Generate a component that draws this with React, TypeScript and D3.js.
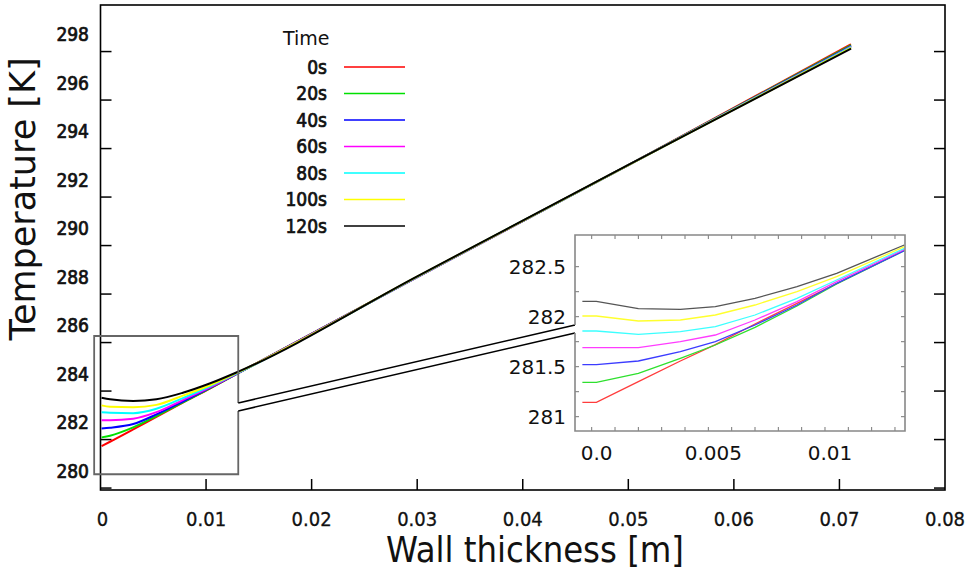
import React from "react";
import * as d3 from "d3";

// ---------- data ----------
const timeLabels = ["0s", "20s", "40s", "60s", "80s", "100s", "120s"];
const lineColors = ["#ff0000", "#00e000", "#0000ff", "#ff00ff", "#00ffff", "#ffff00", "#000000"];
const insetColors = ["#ff3c3c", "#2ee02e", "#3c3cff", "#ff3cff", "#3cffff", "#ffff2e", "#555555"];

// main plot: wall thickness [m] and temperature [K] per time step
const mainX = [0.0001, 0.0009, 0.0031, 0.0053, 0.0078, 0.0104, 0.013, 0.03, 0.05, 0.0711];
const main0s = [281.03, 281.21, 281.72, 282.24, 282.82, 283.41, 284.03, 288.0, 292.62, 297.6];
const main20s = [281.39, 281.46, 281.8, 282.27, 282.83, 283.42, 284.03, 288.0, 292.62, 297.56];
const main40s = [281.76, 281.79, 281.94, 282.34, 282.87, 283.44, 284.03, 288.0, 292.62, 297.52];
const main60s = [282.1, 282.1, 282.16, 282.43, 282.93, 283.46, 284.04, 288.0, 292.62, 297.5];
const main80s = [282.43, 282.41, 282.39, 282.57, 283.01, 283.51, 284.05, 288.01, 292.62, 297.48];
const main100s = [282.71, 282.65, 282.63, 282.73, 283.11, 283.55, 284.07, 288.02, 292.62, 297.45];
const main120s = [283.02, 282.96, 282.89, 282.96, 283.23, 283.62, 284.09, 288.03, 292.63, 297.42];
const mainSeries = [main0s, main20s, main40s, main60s, main80s, main100s, main120s];

// inset (zoom near x = 0)
const insetX = [-0.0004, 0.0002, 0.002, 0.0038, 0.0053, 0.007, 0.0088, 0.0105, 0.0134];
const inset0s = [281.144, 281.144, 281.35, 281.557, 281.72, 281.927, 282.134, 282.33, 282.667];
const inset20s = [281.344, 281.344, 281.434, 281.584, 281.717, 281.894, 282.107, 282.327, 282.66];
const inset40s = [281.52, 281.52, 281.557, 281.65, 281.75, 281.917, 282.117, 282.334, 282.66];
const inset60s = [281.69, 281.69, 281.69, 281.75, 281.817, 281.967, 282.15, 282.35, 282.674];
const inset80s = [281.857, 281.857, 281.824, 281.85, 281.9, 282.017, 282.184, 282.367, 282.684];
const inset100s = [282.007, 282.007, 281.957, 281.967, 282.017, 282.117, 282.25, 282.4, 282.7];
const inset120s = [282.154, 282.154, 282.08, 282.074, 282.1, 282.184, 282.3, 282.434, 282.717];
const insetSeries = [inset0s, inset20s, inset40s, inset60s, inset80s, inset100s, inset120s];

const xTicks = [0, 0.01, 0.02, 0.03, 0.04, 0.05, 0.06, 0.07, 0.08];
const xTickLabels = ["0", "0.01", "0.02", "0.03", "0.04", "0.05", "0.06", "0.07", "0.08"];
const yTicks = [280, 282, 284, 286, 288, 290, 292, 294, 296, 298];
const yTickLabels = ["280", "282", "284", "286", "288", "290", "292", "294", "296", "298"];

const insetXTicks = [0, 0.005, 0.01];
const insetXLabels = ["0.0", "0.005", "0.01"];
const insetYTicks = [281, 281.5, 282, 282.5];
const insetYLabels = ["281", "281.5", "282", "282.5"];

// zoom box in main data coordinates
const zoomBoxX = [-0.0006, 0.01305];
const zoomBoxT = [279.87, 285.57];

// ---------- layout ----------
const W = 974;
const H = 571;
const frame = { left: 100.5, right: 945, top: 5, bottom: 490 };
const inset = { left: 575, right: 905, top: 235, bottom: 431 };

const xMain = d3.scaleLinear().domain([0, 0.08]).range([frame.left, frame.right]);
const yMain = d3.scaleLinear().domain([279.22, 299.22]).range([frame.bottom, frame.top]);
const xIn = d3.scaleLinear().domain([-0.000716, 0.01343]).range([inset.left, inset.right]);
const yIn = d3.scaleLinear().domain([280.857, 282.817]).range([inset.bottom, inset.top]);

const condensed = "'DejaVu Sans Condensed', 'DejaVu Sans', sans-serif";
const sans = "'DejaVu Sans', sans-serif";

export default function App() {
  const mainLine = d3
    .line<number>()
    .x((_, i) => xMain(mainX[i]))
    .y((d) => yMain(d))
    .curve(d3.curveMonotoneX);
  const inLine = d3
    .line<number>()
    .x((_, i) => xIn(insetX[i]))
    .y((d) => yIn(d));

  const tickLen = 11;
  const yMarkShift = 0.7;

  // zoom box & connectors
  const bx0 = xMain(zoomBoxX[0]);
  const bx1 = xMain(zoomBoxX[1]);
  const by0 = yMain(zoomBoxT[1]);
  const by1 = yMain(zoomBoxT[0]);
  const cA0 = yMain(282.81);
  const cB0 = yMain(282.48);
  const cA1 = yIn(281.917);
  const cB1 = yIn(281.837);

  const insetXMinor = d3.range(0, 14).map((k) => k * 0.001);
  const insetYMinor = d3.range(0, 8).map((k) => 281 + k * 0.25 - 0.25).filter((v) => v > 280.9 && v < 282.8);

  return (
    <svg
      width={W}
      height={H}
      style={{ position: "absolute", left: 0, top: 0, background: "#fff" }}
      xmlns="http://www.w3.org/2000/svg"
    >
      <rect x={0} y={0} width={W} height={H} fill="#fff" />

      {/* main frame */}
      <rect
        x={frame.left}
        y={frame.top}
        width={frame.right - frame.left}
        height={frame.bottom - frame.top}
        fill="none"
        stroke="#000"
        strokeWidth={1.6}
      />

      {/* y tick marks (left & right) */}
      {yTicks.map((v) => (
        <g key={"yt" + v}>
          <line x1={frame.left} x2={frame.left + tickLen} y1={yMain(v - yMarkShift)} y2={yMain(v - yMarkShift)} stroke="#000" strokeWidth={1.5} />
          <line x1={frame.right - tickLen} x2={frame.right} y1={yMain(v - yMarkShift)} y2={yMain(v - yMarkShift)} stroke="#000" strokeWidth={1.5} />
        </g>
      ))}
      {/* x tick marks */}
      {xTicks.slice(1, -1).map((v) => (
        <line key={"xt" + v} x1={xMain(v)} x2={xMain(v)} y1={frame.bottom} y2={frame.bottom - tickLen} stroke="#000" strokeWidth={1.5} />
      ))}

      {/* y tick labels */}
      {yTicks.map((v, i) => (
        <text
          key={"yl" + v}
          x={89}
          y={yMain(v)}
          dy="0.36em"
          textAnchor="end"
          fontFamily={condensed}
          fontSize={19}
          fill="#111"
          stroke="#111"
          strokeWidth={0.7}
        >
          {yTickLabels[i]}
        </text>
      ))}
      {/* x tick labels */}
      {xTicks.map((v, i) => (
        <text
          key={"xl" + v}
          x={xMain(v) + (i === 0 ? 2 : 0)}
          y={526}
          textAnchor="middle"
          fontFamily={condensed}
          fontSize={20}
          fill="#111"
          stroke="#111"
          strokeWidth={0.3}
        >
          {xTickLabels[i]}
        </text>
      ))}

      {/* axis titles */}
      <text x={535} y={562} textAnchor="middle" fontFamily={condensed} fontSize={36} fill="#111">
        Wall thickness [m]
      </text>
      <text
        transform={`translate(35,199) rotate(-90)`}
        textAnchor="middle"
        fontFamily={sans}
        fontSize={35}
        fill="#111"
      >
        Temperature [K]
      </text>

      {/* main curves */}
      {mainSeries.map((s, i) => (
        <path key={"m" + i} d={mainLine(s) || ""} fill="none" stroke={lineColors[i]} strokeWidth={2} />
      ))}

      {/* zoom box with break on right edge */}
      <path
        d={`M${bx1},${cA0} L${bx1},${by0} L${bx0},${by0} L${bx0},${by1} L${bx1},${by1} L${bx1},${cB0}`}
        fill="none"
        stroke="#666"
        strokeWidth={1.8}
      />

      {/* connectors */}
      <line x1={bx1} y1={cA0} x2={inset.left} y2={cA1} stroke="#000" strokeWidth={1.6} />
      <line x1={bx1} y1={cB0} x2={inset.left} y2={cB1} stroke="#000" strokeWidth={1.6} />

      {/* inset */}
      <rect x={inset.left} y={inset.top} width={inset.right - inset.left} height={inset.bottom - inset.top} fill="#fff" />
      {insetSeries.map((s, i) => (
        <path key={"i" + i} d={inLine(s) || ""} fill="none" stroke={insetColors[i]} strokeWidth={1.3} />
      ))}
      {insetXMinor.map((v) => (
        <g key={"ixm" + v}>
          <line x1={xIn(v)} x2={xIn(v)} y1={inset.bottom} y2={inset.bottom - 4} stroke="#777" strokeWidth={1} />
          <line x1={xIn(v)} x2={xIn(v)} y1={inset.top} y2={inset.top + 4} stroke="#777" strokeWidth={1} />
        </g>
      ))}
      {insetYMinor.map((v) => (
        <g key={"iym" + v}>
          <line x1={inset.left} x2={inset.left + 4} y1={yIn(v)} y2={yIn(v)} stroke="#777" strokeWidth={1} />
          <line x1={inset.right} x2={inset.right - 4} y1={yIn(v)} y2={yIn(v)} stroke="#777" strokeWidth={1} />
        </g>
      ))}
      <path
        d={`M${inset.left},${cA1} L${inset.left},${inset.top} L${inset.right},${inset.top} L${inset.right},${inset.bottom} L${inset.left},${inset.bottom} L${inset.left},${cB1}`}
        fill="none"
        stroke="#888"
        strokeWidth={1.6}
      />
      {insetYTicks.map((v, i) => (
        <text key={"iyl" + v} x={566} y={yIn(v)} dy="0.36em" textAnchor="end" fontFamily={sans} fontSize={20} fill="#111">
          {insetYLabels[i]}
        </text>
      ))}
      {insetXTicks.map((v, i) => (
        <text key={"ixl" + v} x={xIn(v) + 5} y={460} textAnchor="middle" fontFamily={sans} fontSize={20} fill="#111">
          {insetXLabels[i]}
        </text>
      ))}

      {/* legend */}
      <text x={283} y={45} fontFamily={sans} fontSize={19} fill="#111">
        Time
      </text>
      {timeLabels.map((t, i) => {
        const cy = 67 + i * 26.5;
        return (
          <g key={"lg" + t}>
            <text x={327} y={cy} dy="0.36em" textAnchor="end" fontFamily={condensed} fontSize={19} fill="#111" stroke="#111" strokeWidth={0.7}>
              {t}
            </text>
            <line x1={344} x2={405} y1={cy} y2={cy} stroke={lineColors[i]} strokeWidth={1.6} />
          </g>
        );
      })}
    </svg>
  );
}
